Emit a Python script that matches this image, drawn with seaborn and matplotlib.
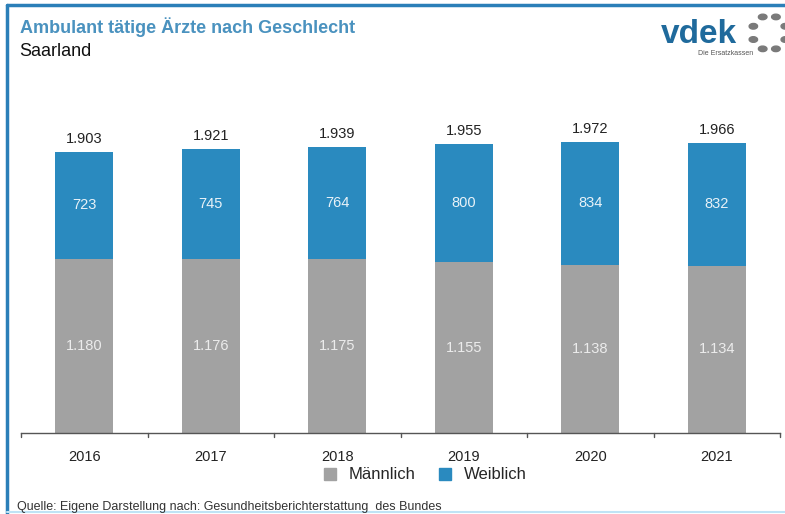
import matplotlib.pyplot as plt
import matplotlib.patches as mpatches
import pandas as pd
import seaborn as sns
import numpy as np

years = ["2016", "2017", "2018", "2019", "2020", "2021"]
maennlich = [1180, 1176, 1175, 1155, 1138, 1134]
weiblich = [723, 745, 764, 800, 834, 832]

BLUE = "#2a8abf"
GRAY = "#a2a2a2"
FONT = ["Liberation Sans Narrow", "Liberation Sans", "DejaVu Sans"]


def de(n):
    return f"{n:,}".replace(",", ".")


df = pd.DataFrame({"Jahr": years, "Männlich": maennlich, "Weiblich": weiblich})
df["Gesamt"] = df["Männlich"] + df["Weiblich"]

sns.set_style("white")
plt.rcParams["font.family"] = FONT

fig = plt.figure(figsize=(7.85, 5.14), dpi=100)
ax = fig.add_axes([0.0268, 0.1576, 0.967, 0.632])

# total height drawn in blue, male part laid over it in gray
sns.barplot(data=df, x="Jahr", y="Gesamt", color=BLUE, width=0.46,
            saturation=1, linewidth=0, ax=ax)
sns.barplot(data=df, x="Jahr", y="Männlich", color=GRAY, width=0.46,
            saturation=1, linewidth=0, ax=ax)

for i, row in df.iterrows():
    ax.text(i, row["Gesamt"] + 40, de(row["Gesamt"]), ha="center", va="bottom",
            fontsize=10.5, color="#222222")
    ax.text(i, row["Männlich"] + row["Weiblich"] / 2, de(row["Weiblich"]),
            ha="center", va="center", fontsize=10.5, color="#e8f2f8")
    ax.text(i, row["Männlich"] / 2, de(row["Männlich"]), ha="center",
            va="center", fontsize=10.5, color="#ececec")

ax.set_xlim(-0.5, 5.5)
ax.set_ylim(0, 2200)
ax.set_xlabel("")
ax.set_ylabel("")
ax.set_yticks([])
ax.set_xticks(range(len(years)))
ax.set_xticklabels(years, fontsize=10.5, color="#222222")
ax.tick_params(axis="x", length=0, pad=12)
for s in ["top", "right", "left"]:
    ax.spines[s].set_visible(False)
ax.spines["bottom"].set_color("#555555")
ax.spines["bottom"].set_linewidth(1)
# boundary ticks between categories
for b in np.arange(-0.5, 6.0, 1.0):
    ax.plot([b, b], [0, -25], color="#555555", lw=1, clip_on=False)

handles = [plt.Line2D([], [], marker="s", ls="", color=GRAY, markersize=8),
           plt.Line2D([], [], marker="s", ls="", color=BLUE, markersize=8)]
fig.legend(handles, ["Männlich", "Weiblich"], loc="center",
           bbox_to_anchor=(0.535, 0.076), ncol=2, frameon=False, fontsize=12,
           handletextpad=0.1, columnspacing=0.8)

# frame lines
fig.add_artist(plt.Line2D([0.009, 1.0], [0.99, 0.99], color="#2b7fb8", lw=2.5))
fig.add_artist(plt.Line2D([0.009, 0.009], [0.0, 0.99], color="#2b7fb8", lw=2.5))
fig.add_artist(plt.Line2D([0.009, 1.0], [0.003, 0.003], color="#bfe3f5", lw=1.5))

fig.text(0.025, 0.947, "Ambulant tätige Ärzte nach Geschlecht", fontsize=13,
         fontweight="bold", color="#4a92bf", va="center")
fig.text(0.025, 0.900, "Saarland", fontsize=13, color="#111111", va="center")
fig.text(0.022, 0.014, "Quelle: Eigene Darstellung nach: Gesundheitsberichterstattung  des Bundes",
         fontsize=9, color="#333333", va="center")

# logo
fig.text(0.842, 0.932, "vdek", fontsize=24, fontweight="bold", color="#1f6a9c",
         va="center", ha="left")
fig.text(0.889, 0.895, "Die Ersatzkassen", fontsize=5, color="#555555",
         va="center", ha="left")
asp = 785 / 514
cx, cy, r = 0.980, 0.936, 0.022
for a in np.linspace(0, 2 * np.pi, 9)[:-1] + np.pi / 8:
    fig.add_artist(mpatches.Ellipse(
        (cx + r * np.cos(a), cy + r * np.sin(a) * asp), 0.011, 0.007 * asp,
        angle=np.degrees(a) + 90, color="#7a7a7a", transform=fig.transFigure))

fig.savefig("out.png", dpi=100)
